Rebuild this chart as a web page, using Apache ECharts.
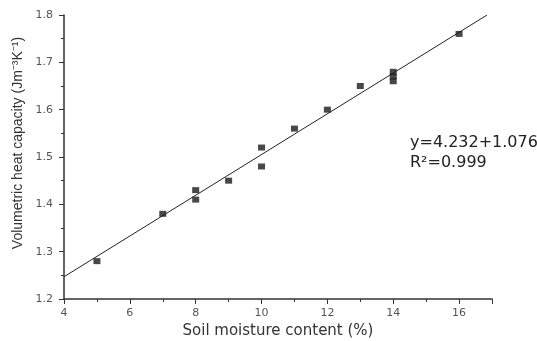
<!DOCTYPE html>
<html>
<head>
<meta charset="utf-8">
<script src="https://cdn.jsdelivr.net/npm/echarts@6/dist/echarts.min.js"></script>
<style>
html,body{margin:0;padding:0;background:#fff;}
#main{width:537px;height:341px;}
</style>
</head>
<body>
<div id="main"></div>
<script>
// measured points (soil moisture %, heat capacity)
var moisture = [5, 7, 8, 8, 9, 10, 10, 11, 12, 13, 14, 14, 14, 16];
var heatCap = [1.28, 1.38, 1.41, 1.43, 1.45, 1.48, 1.52, 1.56, 1.60, 1.65, 1.66, 1.67, 1.68, 1.76];
// fitted line end points
var fitX = [4, 16.85];
var fitY = [1.247, 1.80];
var fitText = ['y=4.232+1.076', 'R\u00b2=0.999'];

var pts = [];
for (var i = 0; i < moisture.length; i++) {
  pts.push([moisture[i], heatCap[i]]);
}
var fitLine = [[fitX[0], fitY[0]], [fitX[1], fitY[1]]];

var myChart = echarts.init(document.getElementById('main'));
var option = {
  backgroundColor: '#fff',
  animation: false,
  grid: { left: 64, top: 15, right: 45, bottom: 42, containLabel: false, outerBoundsMode: 'none' },
  xAxis: {
    type: 'value',
    min: 4, max: 17, interval: 2,
    name: 'Soil moisture content (%)',
    nameLocation: 'middle',
    nameGap: 23,
    nameTextStyle: { fontFamily: 'DejaVu Sans', fontSize: 15, color: '#333' },
    axisLine: { lineStyle: { color: '#333', width: 1.5 } },
    axisTick: { show: true, inside: false, length: 5, lineStyle: { color: '#333' } },
    minorTick: { show: true, splitNumber: 2, length: 3, lineStyle: { color: '#333' } },
    axisLabel: {
      fontFamily: 'DejaVu Sans', fontSize: 11, color: '#555', margin: 9,
      formatter: function (v) { return v > 16 ? '' : v; }
    },
    splitLine: { show: false }
  },
  yAxis: {
    type: 'value',
    min: 1.2, max: 1.8, interval: 0.1,
    axisLine: { show: true, lineStyle: { color: '#333', width: 1.5 } },
    axisTick: { show: true, inside: false, length: 5, lineStyle: { color: '#333' } },
    minorTick: { show: true, splitNumber: 2, length: 3, lineStyle: { color: '#333' } },
    axisLabel: {
      fontFamily: 'DejaVu Sans', fontSize: 11, color: '#555', margin: 11,
      formatter: function (v) { return v.toFixed(1); }
    },
    splitLine: { show: false }
  },
  graphic: [
    {
      type: 'text', x: 18, y: 143, rotation: Math.PI / 2,
      style: {
        text: 'Volumetric heat capacity (Jm\u207b\u00b3K\u207b\u00b9)',
        fontFamily: 'Liberation Sans', fontSize: 14, fill: '#333',
        align: 'center', verticalAlign: 'middle'
      }
    },
    {
      type: 'text', left: 410, top: 135,
      style: { text: fitText[0], fontFamily: 'DejaVu Sans', fontSize: 16, fill: '#222' }
    },
    {
      type: 'text', left: 410, top: 155,
      style: { text: fitText[1], fontFamily: 'DejaVu Sans', fontSize: 16, fill: '#222' }
    }
  ],
  series: [
    {
      type: 'line',
      data: fitLine,
      symbol: 'none',
      lineStyle: { color: '#222', width: 1 },
      z: 1
    },
    {
      type: 'scatter',
      data: pts,
      symbol: 'rect',
      symbolSize: [7, 6],
      itemStyle: { color: '#1a1a1a' },
      z: 2
    }
  ]
};
myChart.setOption(option);
</script>
</body>
</html>
